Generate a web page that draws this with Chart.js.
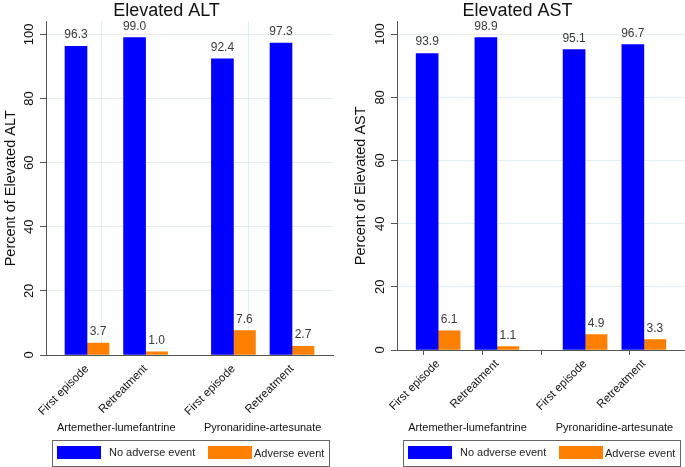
<!DOCTYPE html>
<html>
<head>
<meta charset="utf-8">
<script src="https://cdn.jsdelivr.net/npm/chart.js@4"></script>
<style>
  body { margin: 0; background: #fff; width: 685px; height: 467px; overflow: hidden; position: relative; }
  canvas { position: absolute; top: 0; }
  #altChart { left: 0; }
  #astChart { left: 350px; }
</style>
</head>
<body>
<canvas id="altChart" width="340" height="467"></canvas>
<canvas id="astChart" width="335" height="467"></canvas>
<script>
// Subgroups along the x axis (linear positions leave a wider gap between drugs)
const subgroups = ["First episode", "Retreatment", "First episode", "Retreatment"];
const subgroupX = [0, 1, 2.5, 3.5];
const drugs = ["Artemether-lumefantrine", "Pyronaridine-artesunate"];
const drugX = [0.5, 3];
const seriesNames = ["No adverse event", "Adverse event"];

// Percentages
const altNoEvent = [96.3, 99.0, 92.4, 97.3];
const altAdverse = [3.7, 1.0, 7.6, 2.7];
const astNoEvent = [93.9, 98.9, 95.1, 96.7];
const astAdverse = [6.1, 1.1, 4.9, 3.3];
const yTicks = [0, 20, 40, 60, 80, 100];

const BLUE = "#0000ff";
const ORANGE = "#ff7f00";
const FONT = "'Liberation Sans', Arial, sans-serif";
const CLEAR = "rgba(0,0,0,0)";

Chart.defaults.font.family = FONT;
Chart.defaults.color = "#111";

// Draws the value above every bar
const valueLabels = {
  id: "valueLabels",
  afterDatasetsDraw(chart) {
    const ctx = chart.ctx;
    ctx.save();
    ctx.font = "12px " + FONT;
    ctx.fillStyle = "#3a3a3a";
    ctx.textAlign = "center";
    ctx.textBaseline = "alphabetic";
    chart.data.datasets.forEach((ds, i) => {
      chart.getDatasetMeta(i).data.forEach((bar, j) => {
        ctx.fillText(ds.data[j].y.toFixed(1), bar.x, bar.y - 8);
      });
    });
    ctx.restore();
  },
};

// Drug names under the axis labels and the boxed legend
function groupLegend(cfg) {
  return {
    id: "groupLegend",
    afterDraw(chart) {
      const ctx = chart.ctx;
      const xs = chart.scales.x;
      const left = chart.chartArea.left;
      ctx.save();
      ctx.font = "11px " + FONT;
      ctx.fillStyle = "#111";
      ctx.textAlign = "center";
      ctx.textBaseline = "middle";
      drugs.forEach((d, k) => {
        ctx.fillText(d, xs.getPixelForValue(drugX[k]), 428);
      });

      // legend box
      ctx.strokeStyle = "#666";
      ctx.lineWidth = 1;
      ctx.strokeRect(left + 6.5, 440.5, 277, 26);
      const colors = chart.data.datasets.map((ds) => ds.backgroundColor);
      const swatchX = [left + 11, left + 162];
      const textX = [left + 63, left + 208];
      ctx.textAlign = "left";
      seriesNames.forEach((name, k) => {
        ctx.fillStyle = colors[k];
        ctx.fillRect(swatchX[k], 446, 44, 13);
        ctx.fillStyle = "#222";
        ctx.fillText(name, textX[k], 453 + k);
      });
      ctx.restore();
    },
  };
}

function makePanel(canvasId, cfg) {
  const ctx = document.getElementById(canvasId).getContext("2d");
  return new Chart(ctx, {
    type: "bar",
    data: {
      datasets: [
        {
          label: seriesNames[0],
          data: subgroupX.map((x, i) => ({ x: x, y: cfg.noEvent[i] })),
          backgroundColor: BLUE,
          barThickness: 22,
        },
        {
          label: seriesNames[1],
          data: subgroupX.map((x, i) => ({ x: x, y: cfg.adverse[i] })),
          backgroundColor: ORANGE,
          barThickness: 22,
        },
      ],
    },
    options: {
      responsive: false,
      animation: false,
      devicePixelRatio: 1,
      layout: { padding: { left: 0, top: 0, right: cfg.padRight, bottom: cfg.padBottom } },
      plugins: {
        legend: { display: false },
        tooltip: { enabled: false },
        title: {
          display: true,
          text: cfg.title,
          font: { size: 18, weight: "normal" },
          color: "#111",
          padding: { top: 0, bottom: 0 },
        },
      },
      scales: {
        x: {
          type: "linear",
          min: -0.7,
          max: 4.2,
          offset: false,
          afterBuildTicks: (scale) => {
            scale.ticks = subgroupX.concat(drugX).sort((a, b) => a - b).map((v) => ({ value: v }));
          },
          afterFit: (scale) => { scale.height = cfg.xAxisHeight; },
          ticks: {
            autoSkip: false,
            minRotation: 45,
            maxRotation: 45,
            padding: 2,
            font: { size: 11.5 },
            color: "#111",
            callback: (v) => {
              const i = subgroupX.indexOf(v);
              return i >= 0 ? subgroups[i] : "";
            },
          },
          grid: {
            color: (c) => (cfg.dividers && c.tick && drugX.includes(c.tick.value) ? "#e4edf2" : CLEAR),
            tickColor: (c) => (cfg.xTicks && c.tick && subgroupX.includes(c.tick.value) ? "#555" : CLEAR),
            tickLength: 5,
          },
          border: { color: "#555" },
        },
        y: {
          min: 0,
          max: 104,
          afterBuildTicks: (scale) => {
            scale.ticks = yTicks.map((v) => ({ value: v }));
          },
          afterFit: (scale) => { scale.width = cfg.yAxisWidth; },
          ticks: {
            minRotation: 90,
            maxRotation: 90,
            crossAlign: "center",
            padding: 0,
            font: { size: 13 },
            color: "#111",
          },
          grid: { color: "#e3edf1", tickColor: "#555", tickLength: 6 },
          border: { color: "#555" },
          title: {
            display: true,
            text: cfg.yTitle,
            font: { size: 14.5 },
            color: "#111",
            padding: { top: 2, bottom: 0 },
          },
        },
      },
    },
    plugins: [valueLabels, groupLegend(cfg)],
  });
}

makePanel("altChart", {
  title: "Elevated ALT",
  yTitle: "Percent of Elevated ALT",
  noEvent: altNoEvent,
  adverse: altAdverse,
  padRight: 7,
  padBottom: 46,
  xAxisHeight: 66,
  yAxisWidth: 46,
  dividers: true,
  xTicks: false,
});

makePanel("astChart", {
  title: "Elevated AST",
  yTitle: "Percent of Elevated AST",
  noEvent: astNoEvent,
  adverse: astAdverse,
  padRight: 0,
  padBottom: 51,
  xAxisHeight: 66,
  yAxisWidth: 47,
  dividers: false,
  xTicks: true,
});
</script>
</body>
</html>
